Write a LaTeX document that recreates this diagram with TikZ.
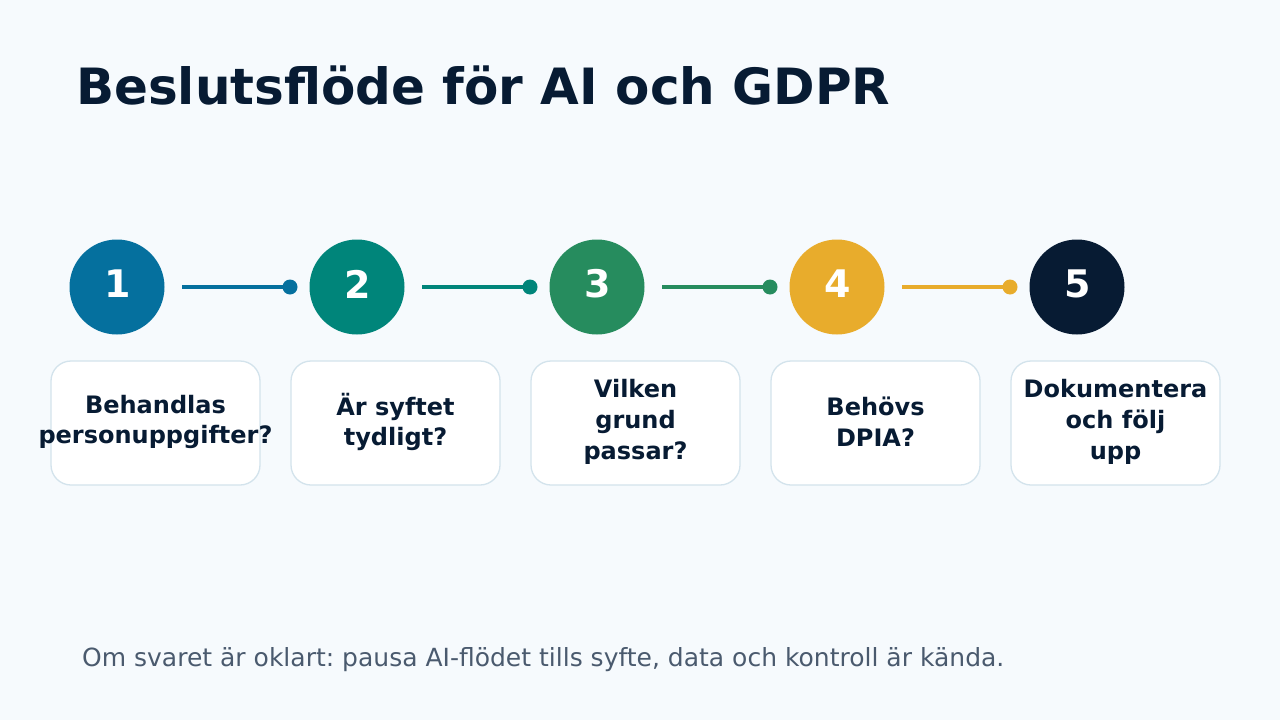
\documentclass[tikz,border=0pt]{standalone}
\usepackage{fontspec}
\setmainfont{DejaVu Sans}
\frenchspacing
\definecolor{bg}{HTML}{F6FAFD}
\definecolor{navy}{HTML}{071B33}
\definecolor{cA}{HTML}{05709E}
\definecolor{cB}{HTML}{00857A}
\definecolor{cC}{HTML}{268C5E}
\definecolor{cD}{HTML}{E8AC2C}
\definecolor{cE}{HTML}{071B33}
\definecolor{boxline}{HTML}{D3E3EC}
\definecolor{foot}{HTML}{4A5A6E}
\begin{document}
\begin{tikzpicture}[x=1pt,y=-1pt,
  stepcircle/.style={circle,minimum size=95pt,inner sep=0pt},
  numtext/.style={inner sep=0pt,text=white,font=\fontsize{38}{38}\selectfont\bfseries},
  qbox/.style={draw=boxline,line width=1.3pt,fill=white,rounded corners=20pt,minimum width=209pt,minimum height=124pt,inner sep=0pt},
  qtext/.style={inner sep=0pt,text=navy,align=center,font=\fontsize{24}{30.7}\selectfont\bfseries},
  link/.style={line width=4.5pt},
  dotend/.style={circle,minimum size=15pt,inner sep=0pt}]
\fill[bg] (0,0) rectangle (1280,720);
\useasboundingbox (0,0) rectangle (1280,720);
\node[anchor=base west,text=navy,font=\fontsize{50}{50}\selectfont\bfseries,inner sep=0pt] (title) at (76,104) {Beslutsflöde för AI och GDPR};
\foreach \i/\c/\t in {1/cA/{Behandlas\\personuppgifter?},2/cB/{Är syftet\\tydligt?},3/cC/{Vilken\\grund\\passar?},4/cD/{Behövs\\DPIA?},5/cE/{Dokumentera\\och följ\\upp}}{
  \node[stepcircle,fill=\c] (c\i) at ({117+240*(\i-1)},287) {};
  \node[numtext] (n\i) at ({117.5+240*(\i-1)},284) {\i};
  \node[qbox] (b\i) at ({155.5+240*(\i-1)},423) {};
  \node[qtext] (t\i) at ({155.5+240*(\i-1)},422) {\t};
}
\foreach \i/\c in {1/cA,2/cB,3/cC,4/cD}{
  \coordinate (s\i) at ({182+240*(\i-1)},287);
  \node[dotend,fill=\c] (d\i) at ({290+240*(\i-1)},287) {};
  \draw[link,\c] (s\i) -- (d\i.center);
}
\node[anchor=base west,text=foot,font=\fontsize{25}{25}\selectfont,inner sep=0pt] (footer) at (82,666) {Om svaret är oklart: pausa AI-flödet tills syfte, data och kontroll är kända.};
\end{tikzpicture}
\end{document}
